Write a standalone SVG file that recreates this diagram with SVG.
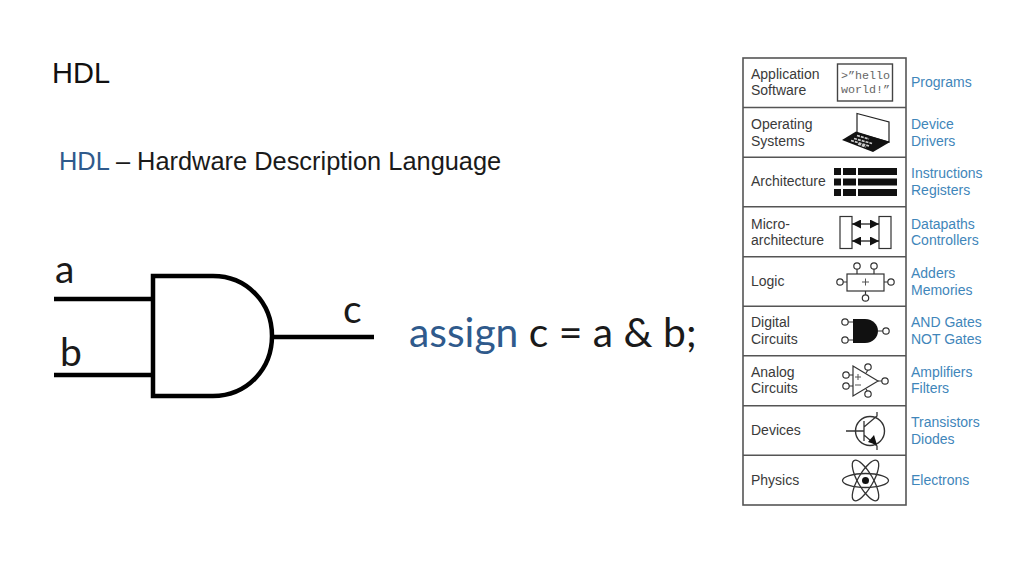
<svg xmlns="http://www.w3.org/2000/svg" width="1024" height="574" viewBox="0 0 1024 574">
<style>
.t{font-family:"Liberation Sans",Arial,sans-serif;font-size:14px;fill:#3a3a3a}
.b{font-family:"Liberation Sans",Arial,sans-serif;font-size:14px;fill:#3f86ba}
.c{font-family:Lato,"Open Sans",sans-serif;fill:#1a1a1a}
.w{fill:none;stroke:#000;stroke-width:4.5}
.k{fill:#111;stroke:none}
.o{fill:#fff;stroke:#333;stroke-width:1.2}
</style>
<defs>
<marker id="ah" viewBox="0 0 9 9" refX="9" refY="4.500" markerWidth="9" markerHeight="9" orient="auto-start-reverse" markerUnits="userSpaceOnUse"><path d="M0 0L9 4.500L0 9Z" fill="#111"/></marker>
</defs>
<rect width="1024" height="574" fill="#fff"/>
<g id="title"><text x="52" y="83" font-family="Liberation Sans,Arial,sans-serif" font-size="29" fill="#111">HDL</text></g>
<g id="subtitle"><text x="59" y="170" font-family="Liberation Sans,Arial,sans-serif" font-size="25.400" fill="#1a1a1a"><tspan fill="#2f5a8c">HDL</tspan> – Hardware Description Language</text></g>
<g id="connectors">
<path class="w" d="M54 299H153"/>
<path class="w" d="M54 375H153"/>
<path class="w" d="M272 337H374"/>
</g>
<g id="and-gate">
<path class="w" d="M153 276H213C247 276 272 303 272 336C272 369 247 396 213 396H153Z"/>
<text class="c" x="55" y="283" font-size="39">a</text>
<text class="c" x="60" y="366" font-size="39">b</text>
<text class="c" x="343" y="323" font-size="39">c</text>
</g>
<g id="code"><text class="c" x="409" y="347" font-size="40.800"><tspan fill="#2f5a8c">assign</tspan> c = a &amp; b;</text></g>
<g id="stack">
<rect x="743" y="58" width="163" height="447" fill="#fff" stroke="#555" stroke-width="1.600"/>
<path d="M743 107.500H906M743 157.300H906M743 206.700H906M743 256.700H906M743 306.300H906M743 355.700H906M743 405.700H906M743 455.300H906" stroke="#555" stroke-width="1.600" fill="none"/>
</g>
<g id="application">
<text class="t" x="751" y="79">Application</text><text class="t" x="751" y="95">Software</text>
<rect x="837.500" y="64" width="55" height="37" fill="#fff" stroke="#444" stroke-width="1.400"/>
<text x="841" y="79" font-family="Liberation Mono,monospace" font-size="11.700" fill="#666">&gt;”hello</text>
<text x="841" y="93" font-family="Liberation Mono,monospace" font-size="11.700" fill="#666">world!”</text>
<text class="b" x="911" y="87">Programs</text>
</g>
<g id="os">
<text class="t" x="751" y="129">Operating</text><text class="t" x="751" y="146">Systems</text>
<path d="M857 113.500L889 122V142L857 133Z" fill="#fff" stroke="#222" stroke-width="1.200"/>
<path class="k" d="M856 131.500L890 142L873 152L842 140Z"/>
<path d="M857 135.500L869 139M854 138.500L872 143.500M851 140.500L869 146M858 144L866 147" stroke="#ccc" stroke-width="1.700" stroke-dasharray="3 1" fill="none"/>
<text class="b" x="911" y="129">Device</text><text class="b" x="911" y="146">Drivers</text>
</g>
<g id="architecture">
<text class="t" x="751" y="186">Architecture</text>
<path class="k" d="M834 168H841V175H834ZM843 168H856V175H843ZM858 168H897V175H858ZM834 178.500H841V185.500H834ZM843 178.500H856V185.500H843ZM858 178.500H897V185.500H858ZM834 189H841V196H834ZM843 189H856V196H843ZM858 189H897V196H858Z"/>
<text class="b" x="911" y="178">Instructions</text><text class="b" x="911" y="195">Registers</text>
</g>
<g id="microarchitecture">
<text class="t" x="751" y="229">Micro-</text><text class="t" x="751" y="245">architecture</text>
<rect x="840" y="216.500" width="12" height="32" fill="#fff" stroke="#333" stroke-width="1.200"/>
<rect x="879" y="216.500" width="12" height="32" fill="#fff" stroke="#333" stroke-width="1.200"/>
<path d="M852 224H879" stroke="#111" stroke-width="1.200" marker-start="url(#ah)" marker-end="url(#ah)" fill="none"/>
<path d="M852 241H879" stroke="#111" stroke-width="1.200" marker-start="url(#ah)" marker-end="url(#ah)" fill="none"/>
<text class="b" x="911" y="229">Datapaths</text><text class="b" x="911" y="245">Controllers</text>
</g>
<g id="logic">
<text class="t" x="751" y="286">Logic</text>
<rect x="847" y="274" width="37" height="17" fill="#fff" stroke="#333" stroke-width="1.200"/>
<path d="M857 268V274M874 268V274M865.500 291V295M841 282H847M884 282H889" stroke="#333" stroke-width="1.200"/>
<path d="M862 282H869M865.500 278.500V285.500" stroke="#555" stroke-width="1"/>
<circle class="o" cx="857" cy="266" r="3.200"/><circle class="o" cx="874" cy="266" r="3.200"/><circle class="o" cx="865.500" cy="298" r="3.200"/><circle class="o" cx="840" cy="282" r="3.200"/><circle class="o" cx="891" cy="282" r="3.200"/>
<text class="b" x="911" y="278">Adders</text><text class="b" x="911" y="295">Memories</text>
</g>
<g id="digital">
<text class="t" x="751" y="327">Digital</text><text class="t" x="751" y="344">Circuits</text>
<path class="k" d="M853 319H865C873 319 878 325 878 331C878 337 873 343 865 343H853Z"/>
<path d="M848 322H853M848 340H853M878 331H883" stroke="#333" stroke-width="1.200"/>
<circle class="o" cx="845" cy="322" r="3.200"/><circle class="o" cx="845" cy="340" r="3.200"/><circle class="o" cx="886" cy="331" r="3.200"/>
<text class="b" x="911" y="327">AND Gates</text><text class="b" x="911" y="344">NOT Gates</text>
</g>
<g id="analog">
<text class="t" x="751" y="377">Analog</text><text class="t" x="751" y="393">Circuits</text>
<path d="M853 366L878 381L853 396Z" fill="#fff" stroke="#333" stroke-width="1.200"/>
<path d="M848 375H853M848 386H853M878 381H882M866 373L868 370M866 389L868 392" stroke="#333" stroke-width="1.200"/>
<path d="M855 377H861M858 374V380M855 385H861" stroke="#555" stroke-width="1"/>
<circle class="o" cx="846" cy="375" r="3.200"/><circle class="o" cx="846" cy="386" r="3.200"/><circle class="o" cx="885" cy="381" r="3.200"/><circle class="o" cx="868" cy="367" r="3.200"/><circle class="o" cx="868" cy="394" r="3.200"/>
<text class="b" x="911" y="377">Amplifiers</text><text class="b" x="911" y="393">Filters</text>
</g>
<g id="devices">
<text class="t" x="751" y="435">Devices</text>
<circle cx="870" cy="431" r="14.500" fill="#fff" stroke="#333" stroke-width="1.400"/>
<path d="M846 431H864M864 421V441M864 427L877 416V412M864 435L877 446V450" stroke="#333" stroke-width="1.300" fill="none"/>
<path class="k" d="M877 445L868 442L874 435Z"/>
<text class="b" x="911" y="427">Transistors</text><text class="b" x="911" y="444">Diodes</text>
</g>
<g id="physics">
<text class="t" x="751" y="485">Physics</text>
<g fill="none" stroke="#333" stroke-width="1.300">
<ellipse cx="865.500" cy="480.500" rx="23" ry="7"/>
<ellipse cx="865.500" cy="480.500" rx="23" ry="7.500" transform="rotate(60 865.500 480.500)"/>
<ellipse cx="865.500" cy="480.500" rx="23" ry="7.500" transform="rotate(-60 865.500 480.500)"/>
</g>
<circle class="k" cx="865.500" cy="480.500" r="3.500"/>
<text class="b" x="911" y="485">Electrons</text>
</g>
</svg>
